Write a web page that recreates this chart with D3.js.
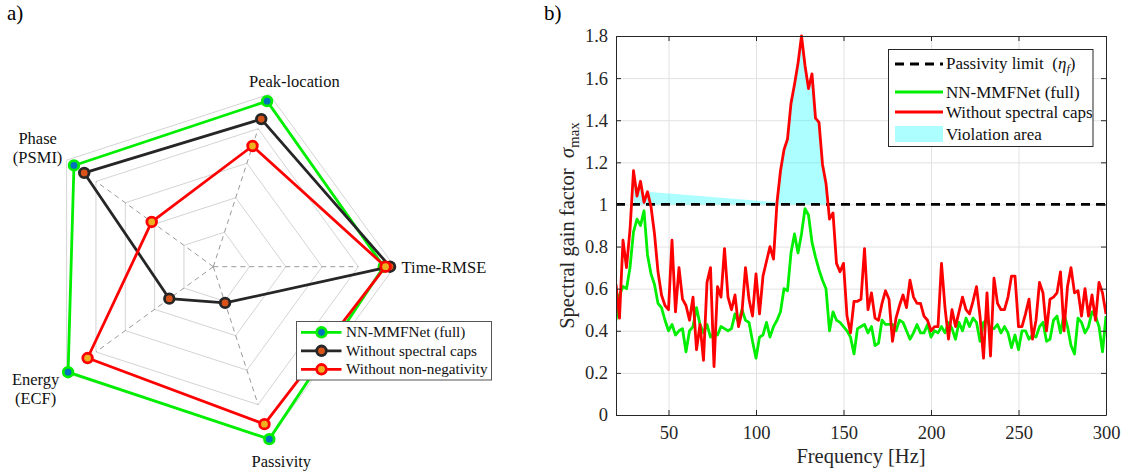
<!DOCTYPE html>
<html>
<head>
<meta charset="utf-8">
<script src="https://cdn.jsdelivr.net/npm/d3@7"></script>
<style>
  body { margin: 0; background: #fff; }
  svg text { font-family: "Liberation Serif", "DejaVu Serif", serif; }
</style>
</head>
<body>
<svg id="fig" width="1124" height="472"></svg>
<script>
// ---------- panel a) radar data ----------
const radarAxes = [["Time-RMSE"], ["Peak-location"], ["Phase", "(PSMI)"], ["Energy", "(ECF)"], ["Passivity"]];
const fullModel = [0.94, 0.96, 0.95, 0.99, 1.0];
const noCaps    = [0.975, 0.856, 0.88, 0.30, 0.21];
const noNonNeg  = [0.95, 0.70, 0.42, 0.857, 0.913];
const radarNames = ["NN-MMFNet (full)", "Without spectral caps", "Without non-negativity"];
const ringLevels = [0.2, 0.4, 0.6, 0.8, 1.0];

// ---------- panel b) spectral gain data (20..300 Hz, 2 Hz step) ----------
const freqStart = 20, freqEnd = 300, freqStep = 2;
const sigmaFull = [
  0.45, 0.57, 0.61, 0.60, 0.70, 0.87, 0.93, 0.90, 0.97, 0.76,
  0.67, 0.62, 0.53, 0.51, 0.45, 0.40, 0.43, 0.38, 0.40, 0.41,
  0.30, 0.40, 0.42, 0.51, 0.43, 0.39, 0.43, 0.37, 0.39, 0.38,
  0.42, 0.41, 0.40, 0.41, 0.48, 0.44, 0.50, 0.45, 0.44, 0.35,
  0.27, 0.37, 0.38, 0.44, 0.37, 0.42, 0.45, 0.49, 0.60, 0.59,
  0.77, 0.86, 0.77, 0.86, 0.98, 0.95, 0.82, 0.75, 0.69, 0.64,
  0.60, 0.40, 0.49, 0.45, 0.44, 0.42, 0.40, 0.37, 0.29, 0.41,
  0.42, 0.43, 0.39, 0.42, 0.33, 0.34, 0.45, 0.43, 0.43, 0.43,
  0.40, 0.45, 0.44, 0.40, 0.36, 0.39, 0.43, 0.39, 0.39, 0.43,
  0.37, 0.40, 0.39, 0.42, 0.39, 0.44, 0.41, 0.36, 0.44, 0.40,
  0.46, 0.42, 0.46, 0.44, 0.35, 0.44, 0.45, 0.41, 0.41, 0.43,
  0.39, 0.42, 0.39, 0.32, 0.38, 0.31, 0.40, 0.40, 0.36, 0.38,
  0.37, 0.42, 0.44, 0.35, 0.36, 0.45, 0.47, 0.39, 0.48, 0.42,
  0.33, 0.29, 0.46, 0.44, 0.39, 0.42, 0.49, 0.47, 0.42, 0.30,
  0.47
];
const sigmaNoCaps = [
  0.62, 0.46, 0.83, 0.70, 0.88, 1.16, 1.04, 1.11, 1.01, 1.06,
  0.99, 0.86, 0.68, 0.57, 0.52, 0.50, 0.83, 0.49, 0.70, 0.55,
  0.52, 0.45, 0.56, 0.31, 0.43, 0.26, 0.63, 0.70, 0.23, 0.61,
  0.56, 0.79, 0.56, 0.50, 0.57, 0.42, 0.49, 0.70, 0.55, 0.47,
  0.67, 0.48, 0.66, 0.73, 0.80, 0.74, 1.01, 1.16, 1.26, 1.31,
  1.48, 1.57, 1.67, 1.80, 1.66, 1.55, 1.62, 1.41, 1.39, 1.19,
  1.10, 0.93, 0.96, 0.72, 0.68, 0.72, 0.47, 0.39, 0.54, 0.54,
  0.55, 0.79, 0.50, 0.58, 0.46, 0.45, 0.53, 0.59, 0.55, 0.35,
  0.46, 0.52, 0.57, 0.51, 0.64, 0.56, 0.53, 0.53, 0.47, 0.45,
  0.40, 0.42, 0.42, 0.72, 0.51, 0.36, 0.50, 0.42, 0.49, 0.56,
  0.50, 0.48, 0.54, 0.61, 0.47, 0.27, 0.58, 0.28, 0.65, 0.53,
  0.50, 0.50, 0.56, 0.66, 0.66, 0.42, 0.42, 0.48, 0.55, 0.36,
  0.45, 0.63, 0.58, 0.40, 0.55, 0.56, 0.58, 0.68, 0.40, 0.61,
  0.70, 0.58, 0.59, 0.47, 0.60, 0.47, 0.57, 0.45, 0.63, 0.58,
  0.48
];
const passivityLimit = 1;
const xTicks = [50, 100, 150, 200, 250, 300];
const yTicks = [0, 0.2, 0.4, 0.6, 0.8, 1, 1.2, 1.4, 1.6, 1.8];

const svg = d3.select("#fig");

// ================= panel a) =================
const cx = 213.3, cy = 266.7, R = 181.3;
const rScale = d3.scaleLinear().domain([0, 1]).range([0, R]);
const nAx = radarAxes.length;
const theta = i => i * 2 * Math.PI / nAx;          // CCW from east
const pt = (v, i) => [cx + rScale(v) * Math.cos(theta(i)), cy - rScale(v) * Math.sin(theta(i))];
const markR = 4.8, markW = 2.8, lineW = 2.8;

svg.append("text").attr("x", 7).attr("y", 20).attr("font-size", 21).text("a)");

const ga = svg.append("g");
ringLevels.forEach(l => {
    ga.append("path")
        .attr("d", d3.line()(d3.range(nAx).map(i => pt(l, i))) + "Z")
        .attr("fill", "none").attr("stroke", "#d4d4d4").attr("stroke-width", 1);
});
d3.range(nAx).forEach(i => {
    ga.append("line")
        .attr("x1", cx).attr("y1", cy)
        .attr("x2", pt(0.8, i)[0]).attr("y2", pt(0.8, i)[1])
        .attr("stroke", "#9a9a9a").attr("stroke-width", 1).attr("stroke-dasharray", "5,4");
});

const radarStyles = [
    {data: fullModel, line: "#00ee00", face: "#0072BD"},
    {data: noCaps,    line: "#262626", face: "#D95319"},
    {data: noNonNeg,  line: "#ff0000", face: "#EDB120"}
];
radarStyles.forEach(s => {
    const pts = s.data.map((v, i) => pt(v, i));
    ga.append("path").attr("d", d3.line()(pts) + "Z")
        .attr("fill", "none").attr("stroke", s.line).attr("stroke-width", lineW)
        .attr("stroke-linejoin", "round");
    ga.selectAll(null).data(pts).join("circle")
        .attr("cx", d => d[0]).attr("cy", d => d[1]).attr("r", markR)
        .attr("fill", s.face).attr("stroke", s.line).attr("stroke-width", markW);
});

// axis labels: anchor relative to outer vertex
const labelPlace = [
    {dx: 7, dy: 1, anchor: "start"},
    {dx: 25, dy: -13, anchor: "middle"},
    {dx: -29, dy: -22, anchor: "middle"},
    {dx: -31, dy: 6, anchor: "middle"},
    {dx: 12, dy: 22, anchor: "middle"}
];
radarAxes.forEach((lines, i) => {
    const p = pt(1, i), lp = labelPlace[i];
    const t = ga.append("text")
        .attr("x", p[0] + lp.dx).attr("y", p[1] + lp.dy)
        .attr("text-anchor", lp.anchor).attr("font-size", 16.5).attr("fill", "#111");
    lines.forEach((s, k) => {
        t.append("tspan").attr("x", p[0] + lp.dx).attr("dy", k === 0 ? "0.35em" : "1.15em").text(s);
    });
});

// legend a)
const la = svg.append("g");
la.append("rect").attr("x", 296.5).attr("y", 321.5).attr("width", 195).attr("height", 58.5)
    .attr("fill", "#fff").attr("stroke", "#555").attr("stroke-width", 1);
radarStyles.forEach((s, k) => {
    const yy = 332.3 + k * 18.5;
    la.append("line").attr("x1", 301).attr("x2", 341.5).attr("y1", yy).attr("y2", yy)
        .attr("stroke", s.line).attr("stroke-width", lineW);
    la.append("circle").attr("cx", 321.5).attr("cy", yy).attr("r", markR)
        .attr("fill", s.face).attr("stroke", s.line).attr("stroke-width", markW);
    la.append("text").attr("x", 346).attr("y", yy).attr("dy", "0.33em")
        .attr("font-size", 15.2).attr("fill", "#111").text(radarNames[k]);
});

// ================= panel b) =================
const x0 = 616, x1 = 1106, yTop = 36, yBot = 415;
const x = d3.scaleLinear().domain([freqStart, freqEnd]).range([x0, x1]);
const y = d3.scaleLinear().domain([0, 1.8]).range([yBot, yTop]);
const freq = d3.range(freqStart, freqEnd + freqStep / 2, freqStep);
const dFull = freq.map((f, i) => ({f, v: sigmaFull[i]}));
const dCaps = freq.map((f, i) => ({f, v: sigmaNoCaps[i]}));

svg.append("text").attr("x", 544).attr("y", 20).attr("font-size", 21).text("b)");

const gb = svg.append("g");
// grid
gb.append("g").attr("transform", `translate(0,${yBot})`)
    .call(d3.axisBottom(x).tickValues(xTicks).tickSize(-(yBot - yTop)).tickFormat(""))
    .call(g => g.select(".domain").remove())
    .call(g => g.selectAll("line").attr("stroke", "#e2e2e2"));
gb.append("g").attr("transform", `translate(${x0},0)`)
    .call(d3.axisLeft(y).tickValues(yTicks).tickSize(-(x1 - x0)).tickFormat(""))
    .call(g => g.select(".domain").remove())
    .call(g => g.selectAll("line").attr("stroke", "#e2e2e2"));

svg.append("clipPath").attr("id", "plotclip")
    .append("rect").attr("x", x0).attr("y", yTop - 2).attr("width", x1 - x0).attr("height", yBot - yTop + 2);
const plot = gb.append("g").attr("clip-path", "url(#plotclip)");

// violation area (points above the limit, joined in order like a MATLAB fill)
const viol = dCaps.filter(d => d.v > passivityLimit);
plot.append("path").datum(viol)
    .attr("d", d3.area().x(d => x(d.f)).y0(y(passivityLimit)).y1(d => y(d.v)))
    .attr("fill", "#00ffff").attr("fill-opacity", 0.32).attr("stroke", "none");

plot.append("line").attr("x1", x0).attr("x2", x1)
    .attr("y1", y(passivityLimit)).attr("y2", y(passivityLimit))
    .attr("stroke", "#000").attr("stroke-width", 2.8).attr("stroke-dasharray", "9,6");

const line = d3.line().x(d => x(d.f)).y(d => y(d.v));
plot.append("path").datum(dFull).attr("d", line)
    .attr("fill", "none").attr("stroke", "#00ee00").attr("stroke-width", lineW).attr("stroke-linejoin", "round");
plot.append("path").datum(dCaps).attr("d", line)
    .attr("fill", "none").attr("stroke", "#ff0000").attr("stroke-width", lineW).attr("stroke-linejoin", "round");

// axes (ticks inside, MATLAB style)
const axCol = "#262626";
const styleAxis = g => {
    g.select(".domain").attr("stroke", axCol);
    g.selectAll(".tick line").attr("stroke", axCol);
    g.selectAll(".tick text").attr("fill", axCol).attr("font-size", 18.5)
        .attr("font-family", "Liberation Serif, DejaVu Serif, serif");
};
gb.append("g").attr("transform", `translate(0,${yBot})`)
    .call(d3.axisBottom(x).tickValues(xTicks).tickSize(-5).tickSizeOuter(0).tickPadding(11))
    .call(styleAxis);
gb.append("g").attr("transform", `translate(0,${yTop})`)
    .call(d3.axisTop(x).tickValues(xTicks).tickSize(-5).tickSizeOuter(0).tickFormat(""))
    .call(styleAxis);
gb.append("g").attr("transform", `translate(${x0},0)`)
    .call(d3.axisLeft(y).tickValues(yTicks).tickSize(-5).tickSizeOuter(0).tickPadding(8)
        .tickFormat(d => String(+d.toFixed(1))))
    .call(styleAxis);
gb.append("g").attr("transform", `translate(${x1},0)`)
    .call(d3.axisRight(y).tickValues(yTicks).tickSize(-5).tickSizeOuter(0).tickFormat(""))
    .call(styleAxis);

// axis labels
gb.append("text").attr("x", (x0 + x1) / 2).attr("y", 463).attr("text-anchor", "middle")
    .attr("font-size", 20.5).attr("fill", axCol).text("Frequency [Hz]");
const yl = gb.append("text")
    .attr("transform", `translate(567,${(yTop + yBot) / 2}) rotate(-90)`)
    .attr("text-anchor", "middle").attr("dy", "0.35em")
    .attr("font-size", 20.5).attr("fill", axCol);
yl.append("tspan").text("Spectral gain factor\u00a0\u00a0");
yl.append("tspan").attr("font-style", "italic").text("σ");
yl.append("tspan").attr("font-size", 15).attr("dy", "0.3em").text("max");

// legend b)
const lb = svg.append("g");
lb.append("rect").attr("x", 888.5).attr("y", 49.5).attr("width", 204.5).attr("height", 97)
    .attr("fill", "#fff").attr("stroke", axCol).attr("stroke-width", 1);
const lx0 = 895, lx1 = 943, ltx = 946;
lb.append("line").attr("x1", lx0).attr("x2", lx1).attr("y1", 64).attr("y2", 64)
    .attr("stroke", "#000").attr("stroke-width", 2.8).attr("stroke-dasharray", "9,6");
const t0 = lb.append("text").attr("x", ltx).attr("y", 69).attr("font-size", 17).attr("fill", "#111");
t0.append("tspan").text("Passivity limit\u00a0\u00a0(");
t0.append("tspan").attr("font-style", "italic").text("η");
t0.append("tspan").attr("font-style", "italic").attr("font-size", 12).attr("dy", 4).text("f");
t0.append("tspan").attr("dy", -4).text(")");
lb.append("line").attr("x1", lx0).attr("x2", lx1).attr("y1", 92).attr("y2", 92)
    .attr("stroke", "#00ee00").attr("stroke-width", lineW);
lb.append("text").attr("x", ltx).attr("y", 98).attr("font-size", 17).attr("fill", "#111").text("NN-MMFNet (full)");
lb.append("line").attr("x1", lx0).attr("x2", lx1).attr("y1", 112).attr("y2", 112)
    .attr("stroke", "#ff0000").attr("stroke-width", lineW);
lb.append("text").attr("x", ltx).attr("y", 118).attr("font-size", 17).attr("fill", "#111").text("Without spectral caps");
lb.append("rect").attr("x", lx0).attr("y", 126).attr("width", lx1 - lx0).attr("height", 16)
    .attr("fill", "#00ffff").attr("fill-opacity", 0.32);
lb.append("text").attr("x", ltx).attr("y", 140).attr("font-size", 17).attr("fill", "#111").text("Violation area");
</script>
</body>
</html>
